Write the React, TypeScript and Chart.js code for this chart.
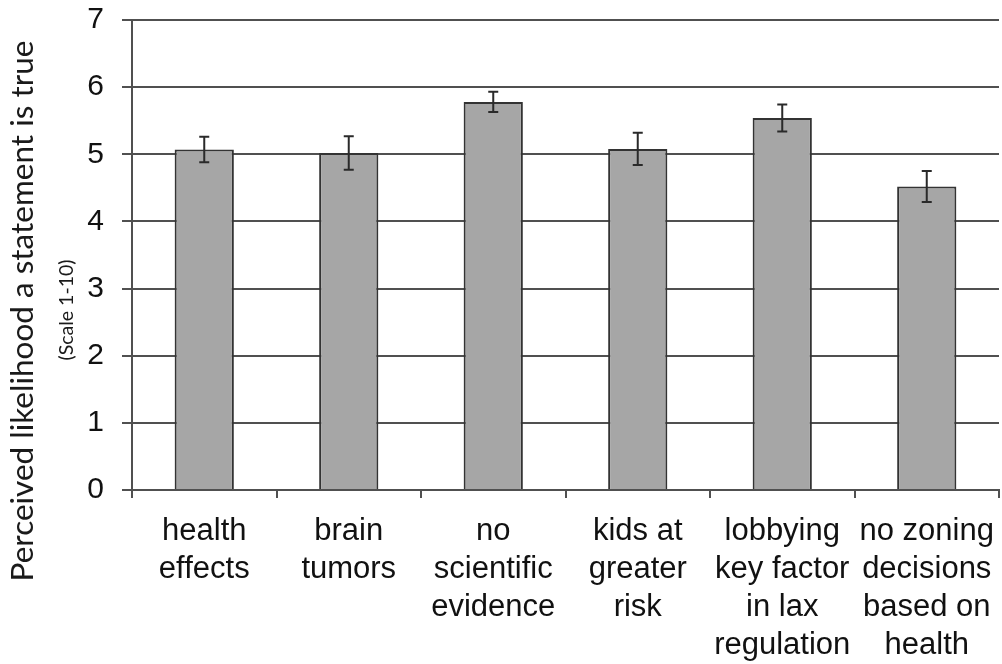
import React, { useEffect, useRef } from "react";
import { Chart, registerables } from "chart.js";

Chart.register(...registerables);

const categories: string[][] = [
  ["health", "effects"],
  ["brain", "tumors"],
  ["no", "scientific", "evidence"],
  ["kids at", "greater", "risk"],
  ["lobbying", "key factor", "in lax", "regulation"],
  ["no zoning", "decisions", "based on", "health"],
];
const means: number[] = [5.07, 5.02, 5.78, 5.08, 5.54, 4.52];
const errors: number[] = [0.19, 0.25, 0.15, 0.24, 0.2, 0.23];
const yTicks: number[] = [0, 1, 2, 3, 4, 5, 6, 7];
const yTitle = "Perceived likelihood a statement is true";
const ySubTitle = "(Scale 1-10)";

const errorBarPlugin = {
  id: "errorBars",
  afterDatasetsDraw(chart: any) {
    const meta = chart.getDatasetMeta(0);
    const yScale = chart.scales.y;
    const ctx = chart.ctx;
    ctx.save();
    ctx.strokeStyle = "#2a2a2a";
    ctx.lineWidth = 2;
    meta.data.forEach((bar: any, i: number) => {
      const x = bar.x;
      const top = yScale.getPixelForValue(means[i] + errors[i]);
      const bot = yScale.getPixelForValue(means[i] - errors[i]);
      ctx.beginPath();
      ctx.moveTo(x, top);
      ctx.lineTo(x, bot);
      ctx.moveTo(x - 5, top);
      ctx.lineTo(x + 5, top);
      ctx.moveTo(x - 5, bot);
      ctx.lineTo(x + 5, bot);
      ctx.stroke();
    });
    ctx.restore();
  },
};

const yTitlePlugin = {
  id: "yTitles",
  afterDraw(chart: any) {
    const ctx = chart.ctx;
    const area = chart.chartArea;
    const cy = (area.top + area.bottom) / 2 + 56;
    ctx.save();
    ctx.fillStyle = "#1a1a1a";
    ctx.textAlign = "center";
    ctx.textBaseline = "alphabetic";
    ctx.translate(33, cy);
    ctx.rotate(-Math.PI / 2);
    ctx.font = "31.5px Lato";
    ctx.fillText(yTitle, 0, 0);
    ctx.restore();
    ctx.save();
    ctx.fillStyle = "#1a1a1a";
    ctx.textAlign = "center";
    ctx.textBaseline = "alphabetic";
    ctx.translate(73, cy - 1);
    ctx.rotate(-Math.PI / 2);
    ctx.font = "19.5px Lato";
    ctx.fillText(ySubTitle, 0, 0);
    ctx.restore();
  },
};

export default function App() {
  const ref = useRef<HTMLCanvasElement | null>(null);
  useEffect(() => {
    if (!ref.current) return;
    const chart = new Chart(ref.current, {
      type: "bar",
      data: {
        labels: categories,
        datasets: [
          {
            data: means,
            backgroundColor: "#a6a6a6",
            borderColor: "#333333",
            borderWidth: 2,
            categoryPercentage: 1,
            barPercentage: 0.41,
          },
        ],
      },
      options: {
        responsive: false,
        animation: false,
        layout: { padding: { top: 20, right: 3, left: 0, bottom: 0 } },
        plugins: {
          legend: { display: false },
          tooltip: { enabled: false },
        },
        scales: {
          x: {
            grid: {
              display: true,
              drawOnChartArea: false,
              drawTicks: true,
              tickLength: 8,
              color: "#505050",
              lineWidth: 2,
            },
            border: { display: true, color: "#505050", width: 2 },
            ticks: {
              color: "#111",
              font: { family: "Liberation Sans, Arial", size: 31, lineHeight: 1.22 },
              padding: 15,
              maxRotation: 0,
              minRotation: 0,
              autoSkip: false,
            },
            afterFit(scale: any) {
              scale.height = 174;
              scale.paddingLeft = 0;
              scale.paddingRight = 0;
            },
          },
          y: {
            min: 0,
            max: 7,
            afterBuildTicks(scale: any) {
              scale.ticks = yTicks.map((v) => ({ value: v }));
            },
            grid: {
              color: "#505050",
              lineWidth: 2,
              drawTicks: true,
              tickLength: 10,
            },
            border: { display: true, color: "#505050", width: 2 },
            ticks: {
              color: "#111",
              font: { family: "Liberation Sans, Arial", size: 30, lineHeight: 1 },
              padding: 18,
            },
            afterFit(scale: any) {
              scale.width = 132;
              scale.paddingTop = 0;
              scale.paddingBottom = 0;
            },
          },
        },
      },
      plugins: [errorBarPlugin, yTitlePlugin],
    });
    return () => chart.destroy();
  }, []);
  return (
    <div style={{ position: "absolute", left: 0, top: 0, width: 1002, height: 664, background: "#fff" }}>
      <canvas ref={ref} width={1002} height={664} />
    </div>
  );
}
